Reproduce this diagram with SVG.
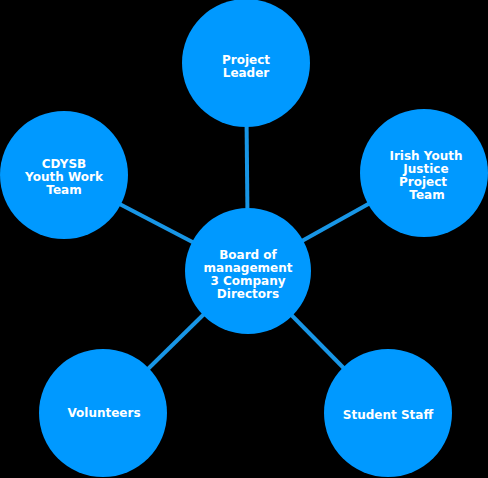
<svg xmlns="http://www.w3.org/2000/svg" width="488" height="478" viewBox="0 0 488 478">
<style>
.n{fill:#0099FF}
.t{fill:#FFFFFF;font-family:"DejaVu Sans","Liberation Sans",sans-serif;font-weight:bold;font-size:12px;text-anchor:middle}
.c{stroke:#1896E6;stroke-width:4;fill:none}
</style>
<rect width="488" height="478" fill="#000000"/>
<g id="connectors">
<line class="c" x1="248" y1="271" x2="246" y2="63"/>
<line class="c" x1="248" y1="271" x2="424" y2="173"/>
<line class="c" x1="248" y1="271" x2="64" y2="175"/>
<line class="c" x1="248" y1="271" x2="103" y2="413"/>
<line class="c" x1="248" y1="271" x2="388" y2="413"/>
</g>
<g id="project-leader">
<circle class="n" cx="246" cy="63" r="64"/>
<text class="t" x="246" y="64">Project</text>
<text class="t" x="246" y="77">Leader</text>
</g>
<g id="irish-youth">
<circle class="n" cx="424" cy="173" r="64"/>
<text class="t" x="426" y="160">Irish Youth</text>
<text class="t" x="426" y="173">Justice</text>
<text class="t" x="423" y="186">Project</text>
<text class="t" x="427" y="199">Team</text>
</g>
<g id="cdysb">
<circle class="n" cx="64" cy="175" r="64"/>
<text class="t" x="64" y="168">CDYSB</text>
<text class="t" x="64" y="181">Youth Work</text>
<text class="t" x="64" y="194">Team</text>
</g>
<g id="board">
<circle class="n" cx="248" cy="271" r="63"/>
<text class="t" x="248" y="259">Board of</text>
<text class="t" x="248" y="272">management</text>
<text class="t" x="248" y="285">3 Company</text>
<text class="t" x="248" y="298">Directors</text>
</g>
<g id="volunteers">
<circle class="n" cx="103" cy="413" r="64"/>
<text class="t" x="104" y="417">Volunteers</text>
</g>
<g id="student-staff">
<circle class="n" cx="388" cy="413" r="64"/>
<text class="t" x="388" y="419">Student Staff</text>
</g>
</svg>
